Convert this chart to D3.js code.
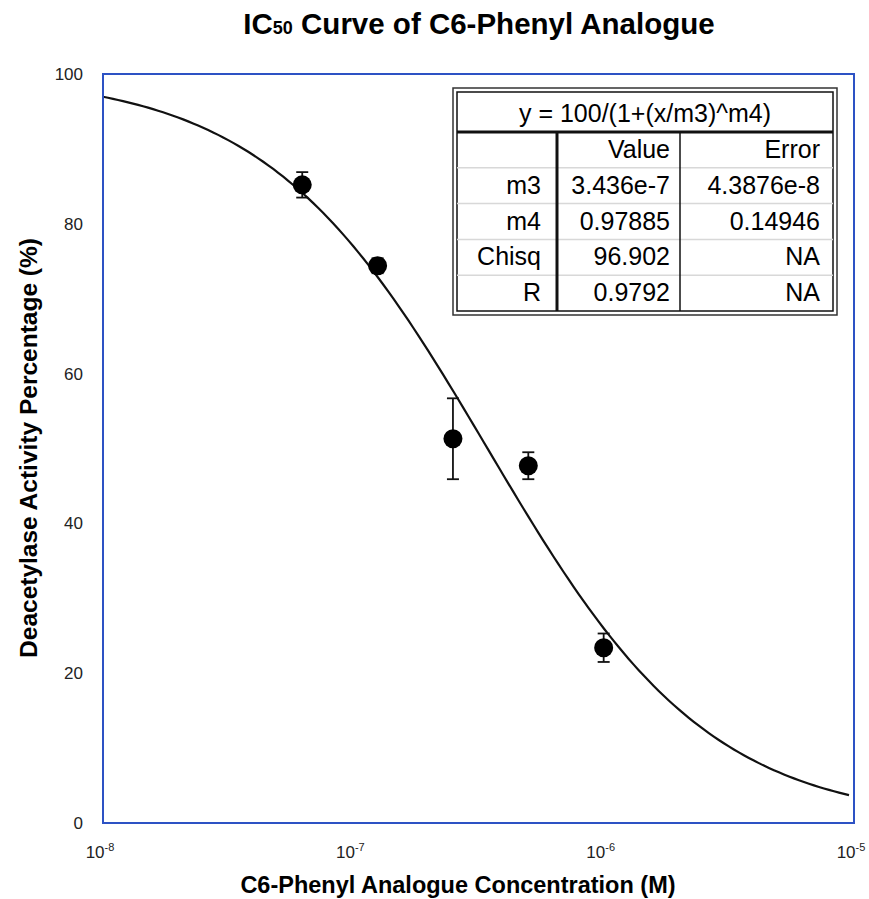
<!DOCTYPE html>
<html>
<head>
<meta charset="utf-8">
<script src="https://cdn.jsdelivr.net/npm/d3@7"></script>
<style>
  body { margin: 0; background: #fff; }
  text { font-family: "Liberation Sans", Arial, sans-serif; }
</style>
</head>
<body>
<div id="chart"></div>
<script>
// measured points (concentration in M, activity in %)
const concentrations = [6.25e-8, 1.25e-7, 2.5e-7, 5e-7, 1e-6];
const activity = [85.2, 74.4, 51.3, 47.7, 23.4];
const activityErr = [1.7, 1.0, 5.4, 1.8, 1.9];

const xTicks = [1e-8, 1e-7, 1e-6, 1e-5];
const xTickExp = ["-8", "-7", "-6", "-5"];
const yTicks = [0, 20, 40, 60, 80, 100];

// fit table
const fitEquation = "y = 100/(1+(x/m3)^m4)";
const tableHeader = ["", "Value", "Error"];
const paramNames = ["m3", "m4", "Chisq", "R"];
const paramValues = ["3.436e-7", "0.97885", "96.902", "0.9792"];
const paramErrors = ["4.3876e-8", "0.14946", "NA", "NA"];

const W = 869, H = 899;
const mg = { left: 103, right: 15, top: 74, bottom: 76 };

const svg = d3.select('#chart')
  .append('svg')
  .attr('width', W)
  .attr('height', H);

const x = d3.scaleLog()
  .domain([1e-8, 1e-5])
  .range([mg.left, W - mg.right]);

const y = d3.scaleLinear()
  .domain([0, 100])
  .range([H - mg.bottom, mg.top]);

// title
const title = svg.append('text')
  .attr('x', 479)
  .attr('y', 34)
  .attr('text-anchor', 'middle')
  .style('font-size', '29.5px')
  .style('font-weight', 'bold');
title.append('tspan').text('IC');
title.append('tspan').text('50').style('font-size', '18px').attr('dy', 0);
title.append('tspan').text(' Curve of C6-Phenyl Analogue');

// y ticks (no tick marks, only labels)
svg.selectAll('.ylab')
  .data(yTicks)
  .enter().append('text')
  .attr('class', 'ylab')
  .attr('x', 83)
  .attr('y', d => y(d) + 6)
  .attr('text-anchor', 'end')
  .style('font-size', '17px')
  .style('fill', '#222')
  .text(d => d);

// x ticks as 10^n
const xl = svg.selectAll('.xlab')
  .data(xTicks)
  .enter().append('text')
  .attr('class', 'xlab')
  .attr('x', d => x(d) - 3)
  .attr('y', 858)
  .attr('text-anchor', 'middle')
  .style('font-size', '17px')
  .style('fill', '#222');
xl.append('tspan').text('10');
xl.append('tspan')
  .attr('dy', -7)
  .style('font-size', '11px')
  .text((d, i) => xTickExp[i]);

// axis titles
svg.append('text')
  .attr('x', 458)
  .attr('y', 893)
  .attr('text-anchor', 'middle')
  .style('font-size', '23.5px')
  .style('font-weight', 'bold')
  .text('C6-Phenyl Analogue Concentration (M)');

svg.append('text')
  .attr('transform', 'translate(37,448) rotate(-90)')
  .attr('text-anchor', 'middle')
  .style('font-size', '24.5px')
  .style('font-weight', 'bold')
  .text('Deacetylase Activity Percentage (%)');

// fitted curve from the table parameters
const m3 = +paramValues[0], m4 = +paramValues[1];
const logGrid = d3.range(-8, -5.0001, 0.02);
const curve = d3.line()
  .x(d => x(Math.pow(10, d)))
  .y(d => y(100 / (1 + Math.pow(Math.pow(10, d) / m3, m4))));

svg.append('path')
  .datum(logGrid)
  .attr('d', curve)
  .attr('fill', 'none')
  .attr('stroke', '#111')
  .attr('stroke-width', 2.2);

// error bars
const pts = concentrations.map((c, i) => ({ c: c, v: activity[i], e: activityErr[i] }));
const eb = svg.selectAll('.err')
  .data(pts)
  .enter().append('g')
  .attr('class', 'err')
  .style('stroke', '#111')
  .style('stroke-width', 1.8);
eb.append('line')
  .attr('x1', d => x(d.c)).attr('x2', d => x(d.c))
  .attr('y1', d => y(d.v + d.e)).attr('y2', d => y(d.v - d.e));
eb.append('line')
  .attr('x1', d => x(d.c) - 6).attr('x2', d => x(d.c) + 6)
  .attr('y1', d => y(d.v + d.e)).attr('y2', d => y(d.v + d.e));
eb.append('line')
  .attr('x1', d => x(d.c) - 6).attr('x2', d => x(d.c) + 6)
  .attr('y1', d => y(d.v - d.e)).attr('y2', d => y(d.v - d.e));

svg.selectAll('.dot')
  .data(pts)
  .enter().append('circle')
  .attr('class', 'dot')
  .attr('cx', d => x(d.c))
  .attr('cy', d => y(d.v))
  .attr('r', 9.5)
  .style('fill', '#000');

// plot frame
svg.append('rect')
  .attr('x', x(1e-8))
  .attr('y', y(100))
  .attr('width', x(1e-5) - x(1e-8))
  .attr('height', y(0) - y(100))
  .attr('fill', 'none')
  .attr('stroke', '#2d52c4')
  .attr('stroke-width', 2);

// fit table
const tb = { x: 453, y: 88, w: 384, h: 227, head: 44 };
const colRight = [541, 670, 820];
const colLines = [557, 680];
const rowH = (tb.h - 4 - tb.head) / 5;
const rowsTop = tb.y + tb.head;

const tbl = svg.append('g');
tbl.append('rect')
  .attr('x', tb.x).attr('y', tb.y)
  .attr('width', tb.w).attr('height', tb.h)
  .attr('fill', '#fff')
  .attr('stroke', '#333').attr('stroke-width', 1.5);
tbl.append('rect')
  .attr('x', tb.x + 4).attr('y', tb.y + 4)
  .attr('width', tb.w - 8).attr('height', tb.h - 8)
  .attr('fill', 'none')
  .attr('stroke', '#111').attr('stroke-width', 1.5);

// light row separators
tbl.selectAll('.rowline')
  .data(d3.range(1, 5))
  .enter().append('line')
  .attr('x1', tb.x + 4).attr('x2', tb.x + tb.w - 4)
  .attr('y1', i => rowsTop + i * rowH).attr('y2', i => rowsTop + i * rowH)
  .attr('stroke', '#d8d8d8').attr('stroke-width', 1.5);

tbl.append('line')
  .attr('x1', tb.x + 4).attr('x2', tb.x + tb.w - 4)
  .attr('y1', rowsTop).attr('y2', rowsTop)
  .attr('stroke', '#111').attr('stroke-width', 3);

tbl.append('line')
  .attr('x1', colLines[0]).attr('x2', colLines[0])
  .attr('y1', rowsTop).attr('y2', tb.y + tb.h - 4)
  .attr('stroke', '#111').attr('stroke-width', 3);
tbl.append('line')
  .attr('x1', colLines[1]).attr('x2', colLines[1])
  .attr('y1', rowsTop).attr('y2', tb.y + tb.h - 4)
  .attr('stroke', '#111').attr('stroke-width', 1.5);

tbl.append('text')
  .attr('x', tb.x + tb.w / 2)
  .attr('y', tb.y + 34)
  .attr('text-anchor', 'middle')
  .style('font-size', '25px')
  .text(fitEquation);

const rows = [tableHeader].concat(paramNames.map((n, i) => [n, paramValues[i], paramErrors[i]]));
rows.forEach((r, ri) => {
  r.forEach((cell, ci) => {
    tbl.append('text')
      .attr('x', colRight[ci])
      .attr('y', rowsTop + ri * rowH + 26)
      .attr('text-anchor', 'end')
      .style('font-size', '25px')
      .text(cell);
  });
});
</script>
</body>
</html>
